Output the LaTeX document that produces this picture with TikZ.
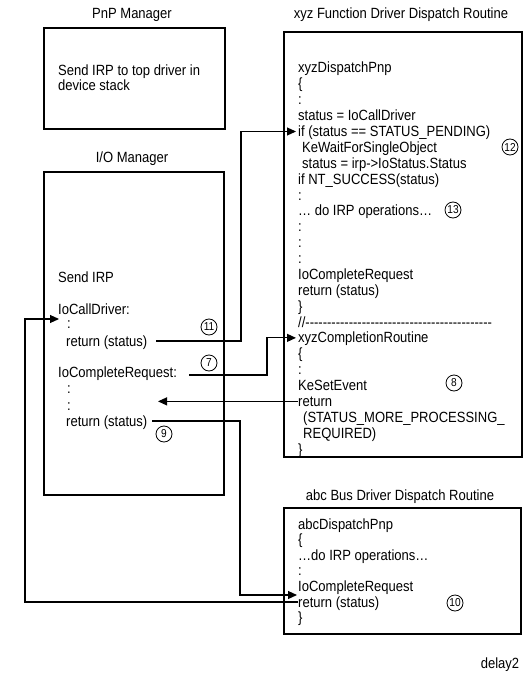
\documentclass[tikz,border=0pt]{standalone}
\usepackage{fontspec}
\setmainfont{Liberation Sans}[FakeStretch=0.88]
\usetikzlibrary{arrows.meta}
\begin{document}
\begin{tikzpicture}[x=1pt,y=-1pt,
  box/.style={draw,line width=1.1pt,inner sep=0pt},
  title/.style={anchor=base,inner sep=0pt},
  txt/.style={anchor=base west,inner sep=0pt,text height=11pt,text depth=1pt},
  num/.style={draw,circle,line width=0.8pt,inner sep=0pt,minimum size=16pt,font=\fontsize{11.5}{11.5}\selectfont},
  conn/.style={line width=1.1pt},
  arr/.style={conn,-{Triangle[length=9pt,width=8pt]}},
  font=\fontsize{14.8}{16}\selectfont]
\useasboundingbox (0,0) rectangle (527,679);

% boxes
\node[box,minimum width=181pt,minimum height=101pt] (pnp) at (134.5,78.5) {};
\node[box,minimum width=180pt,minimum height=323pt] (io) at (134,333.5) {};
\node[box,minimum width=238pt,minimum height=425pt] (xyz) at (403,244.5) {};
\node[box,minimum width=237pt,minimum height=126pt] (abc) at (402.5,571) {};

% titles
\node[title] (tpnp) at (132,19) {PnP Manager};
\node[title] (tio) at (132,163) {I/O Manager};
\node[title] (txyz) at (401,19) {xyz Function Driver Dispatch Routine};
\node[title] (tabc) at (400,500) {abc Bus Driver Dispatch Routine};

% PnP manager
\node[txt] (p1) at (58,76) {Send IRP to top driver in};
\node[txt] (p2) at (58,91) {device stack};

% I/O manager
\node[txt] (iosend) at (58,282) {Send IRP};
\node[txt] (iocall) at (58,314) {IoCallDriver:};
\node[txt] (iod1) at (67,328) {:};
\node[txt] (ioret1) at (66,346) {return (status)};
\node[txt] (iocr) at (58,377) {IoCompleteRequest:};
\node[txt] (iod2) at (67,393) {:};
\node[txt] (iod3) at (67,410) {:};
\node[txt] (ioret2) at (66,426) {return (status)};

% xyz function driver
\node[txt] (x0)  at (298,{73+15.875*0})  {xyzDispatchPnp};
\node[txt] (x1)  at (298,{73+15.875*1})  {\{};
\node[txt] (x2)  at (298,{73+15.875*2})  {:};
\node[txt] (x3)  at (298,{73+15.875*3})  {status = IoCallDriver};
\node[txt] (ifln) at (298,{73+15.875*4}) {if (status == STATUS\_PENDING)};
\node[txt] (x5)  at (302,{73+15.875*5})  {KeWaitForSingleObject};
\node[txt] (x6)  at (302,{73+15.875*6})  {status = irp->IoStatus.Status};
\node[txt] (x7)  at (298,{73+15.875*7})  {if NT\_SUCCESS(status)};
\node[txt] (x8)  at (298,{73+15.875*8})  {:};
\node[txt] (x9)  at (298,{73+15.875*9})  {… do IRP operations…};
\node[txt] (x10) at (298,{73+15.875*10}) {:};
\node[txt] (x11) at (298,{73+15.875*11}) {:};
\node[txt] (x12) at (298,{73+15.875*12}) {:};
\node[txt] (x13) at (298,{73+15.875*13}) {IoCompleteRequest};
\node[txt] (x14) at (298,{73+15.875*14}) {return (status)};
\node[txt] (x15) at (298,{73+15.875*15}) {\}};
\node[txt] (x16) at (298,{73+15.875*16}) {//\foreach\k in {1,...,43}{-\kern0pt}};
\node[txt] (compl) at (298,{73+15.875*17}) {xyzCompletionRoutine};
\node[txt] (x18) at (298,{73+15.875*18}) {\{};
\node[txt] (x19) at (298,{73+15.875*19}) {:};
\node[txt] (x20) at (298,{73+15.875*20}) {KeSetEvent};
\node[txt] (xret) at (298,{73+15.875*21}) {return};
\node[txt] (x22) at (303,{73+15.875*22}) {(STATUS\_MORE\_PROCESSING\_};
\node[txt] (x23) at (303,{73+15.875*23}) {REQUIRED)};
\node[txt] (x24) at (298,{73+15.875*24}) {\}};

% abc bus driver
\node[txt] (a0) at (298,{529+15.6*0}) {abcDispatchPnp};
\node[txt] (a1) at (298,{529+15.6*1}) {\{};
\node[txt] (a2) at (298,{529+15.6*2}) {…do IRP operations…};
\node[txt] (a3) at (298,{529+15.6*3}) {:};
\node[txt] (abccr) at (298,{529+15.6*4}) {IoCompleteRequest};
\node[txt] (abcret) at (298,{529+15.6*5}) {return (status)};
\node[txt] (a6) at (298,{529+15.6*6}) {\}};

% step numbers
\node[num] (n11) at (209,327) {11};
\node[num] (n7)  at (209,363) {7};
\node[num] (n9)  at (164,434) {9};
\node[num] (n12) at (510,147) {12};
\node[num] (n13) at (453,210) {13};
\node[num] (n8)  at (454,383) {8};
\node[num] (n10) at (455,603) {10};

\node[title] (tag) at (500,668) {delay2};

% routing columns
\coordinate (v11) at (241,0);
\coordinate (v7) at (267,0);
\coordinate (v9) at (240,0);
\coordinate (vL) at (25,0);
\coordinate (tip8) at (158,0);

% connectors
\draw[arr] ([xshift=9pt]ioret1.east) -- (ioret1.east -| v11) |- ([xshift=-2pt]ifln.west);
\draw[arr] ([xshift=12pt,yshift=-3pt]iocr.east) -- ([yshift=-3pt]iocr.east -| v7) |- ([xshift=-2pt]compl.west);
\draw[arr] (xret.west) -- (xret.west -| tip8);
\draw[arr] ([xshift=5pt]ioret2.east) -- (ioret2.east -| v9) |- ([xshift=-1pt,yshift=7pt]abcret.west);
\draw[arr] (abcret.west) -- (abcret.west -| vL) |- ([xshift=1pt,yshift=-10pt]iocall.west);
\end{tikzpicture}
\end{document}
